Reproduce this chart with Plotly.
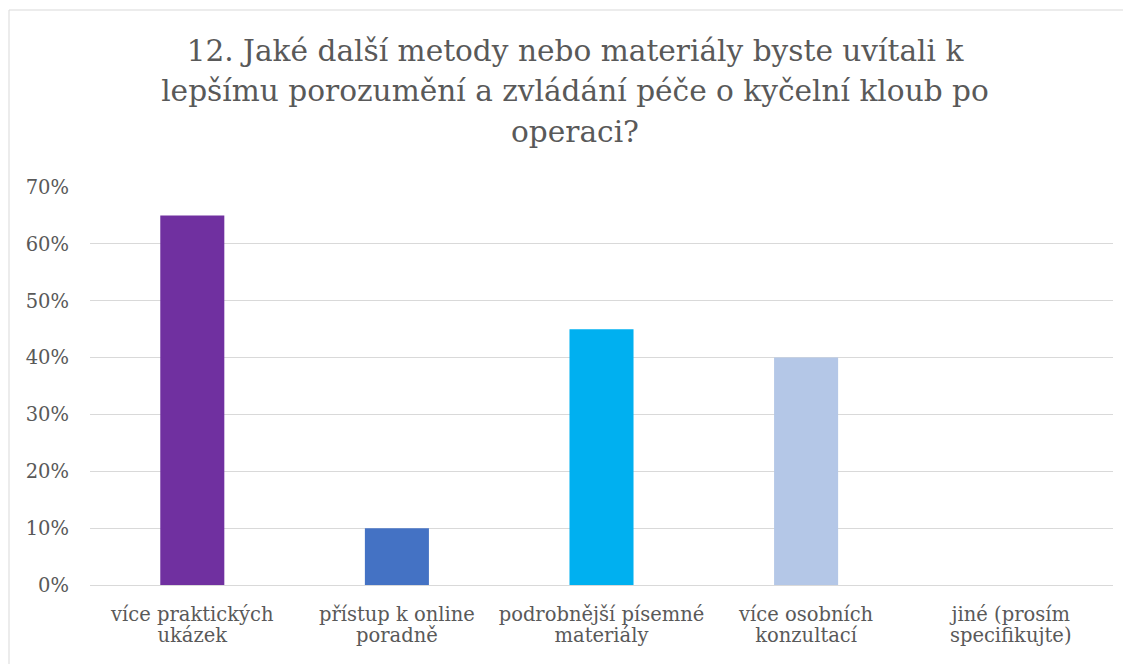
import plotly.graph_objects as go

categories = ["více praktických<br>ukázek", "přístup k online<br>poradně",
              "podrobnější písemné<br>materiály", "více osobních<br>konzultací",
              "jiné (prosím<br>specifikujte)"]
values = [0.65, 0.10, 0.45, 0.40, 0.0]
colors = ["#7030A0", "#4472C4", "#00B0F0", "#B4C7E7", "#A5A5A5"]
title_lines = ["12. Jaké další metody nebo materiály byste uvítali k",
               "lepšímu porozumění a zvládání péče o kyčelní kloub po",
               "operaci?"]
y_ticks = [0, 0.1, 0.2, 0.3, 0.4, 0.5, 0.6, 0.7]

FONT = "DejaVu Serif"
GREY = "#595959"
GRID = "#D9D9D9"

def big(s, px):
    return "<br>".join(f"<span style='font-size:{px}px'>{p}</span>" for p in s.split("<br>"))

fig = go.Figure(go.Bar(
    x=list(range(len(categories))), y=values,
    marker=dict(color=colors, line=dict(width=0)),
    hoverinfo="skip",
))

fig.update_layout(
    width=1123, height=656,
    margin=dict(l=82, r=18, t=179, b=79, autoexpand=False),
    paper_bgcolor="white", plot_bgcolor="white",
    bargap=0.687,
    showlegend=False,
    font=dict(family=FONT, color=GREY, size=20),
    title=dict(
        text=big("<br>".join(title_lines), 29.6),
        font=dict(family=FONT, size=31, color=GREY),
        x=567 / 1123, xref="container", xanchor="center",
        y=1 - 53 / 656, yref="container", yanchor="top",
    ),
    xaxis=dict(
        tickmode="array", tickvals=list(range(len(categories))),
        ticktext=[big(c, 19.5) for c in categories],
        tickfont=dict(family=FONT, size=16.6, color=GREY),
        tickangle=0,
        range=[-0.5, len(categories) - 0.5],
        showgrid=False, zeroline=False, showline=False, ticks="",
        ticklabelstandoff=18, automargin=False,
    ),
    yaxis=dict(
        range=[0, 0.7001], tickmode="array", tickvals=y_ticks,
        tickformat=".0%",
        tickfont=dict(family=FONT, size=19.5, color=GREY),
        showgrid=True, gridcolor=GRID, gridwidth=1,
        zeroline=True, zerolinecolor=GRID, zerolinewidth=1,
        showline=False, ticks="", ticklabelstandoff=20,
        automargin=False,
    ),
    shapes=[dict(type="rect", xref="paper", yref="paper",
                 x0=(9 - 90) / 1023, x1=1.05, y0=-0.3, y1=(585 - 10) / 398,
                 line=dict(color=GRID, width=1), fillcolor="rgba(0,0,0,0)", layer="below")],
)

fig.write_html("out.html")
